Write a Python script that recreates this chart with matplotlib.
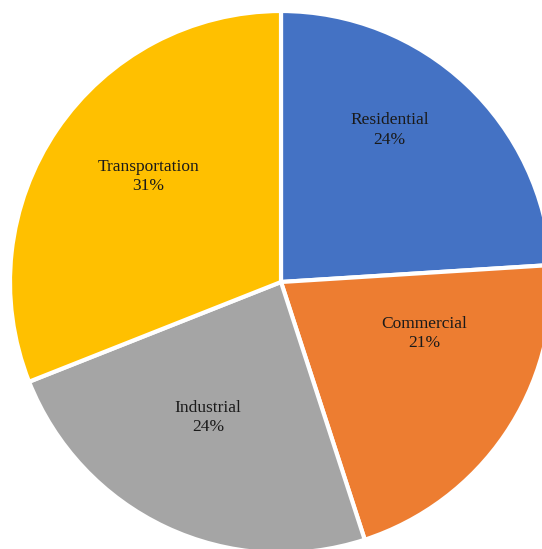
import matplotlib.pyplot as plt
import numpy as np

sectors = ["Residential", "Commercial", "Industrial", "Transportation"]
shares = [24, 21, 24, 31]
colors = ["#4472C4", "#ED7D31", "#A5A5A5", "#FFC000"]
# label centres in pie units (x, y), radius of the pie = 1
label_pos = [(0.40, 0.56), (0.53, -0.19), (-0.27, -0.50), (-0.49, 0.39)]

fig = plt.figure(figsize=(5.42, 5.49), dpi=100)
ax = fig.add_axes([10 / 542, -4 / 549, 542 / 542, 542 / 549])

wedges, _ = ax.pie(shares, colors=colors, startangle=90, counterclock=False,
                   radius=1.0, wedgeprops=dict(edgecolor="white", linewidth=3))

for name, val, (x, y) in zip(sectors, shares, label_pos):
    ax.text(x, y, f"{name}\n{val}%", ha="center", va="center",
            fontsize=12.5, family="Liberation Serif", color="#1a1a1a",
            linespacing=1.3)

ax.set_xlim(-1, 1)
ax.set_ylim(-1, 1)
ax.set_aspect("auto")
ax.axis("off")

fig.savefig("out.png", dpi=100)
